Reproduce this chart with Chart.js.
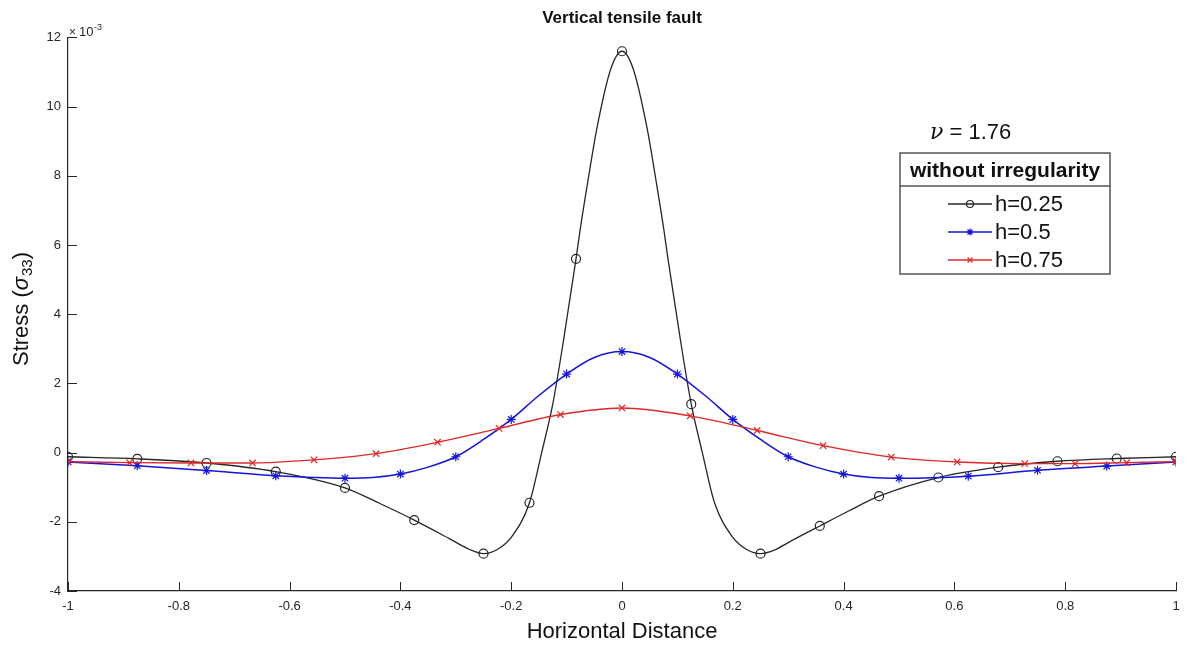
<!DOCTYPE html>
<html>
<head>
<meta charset="utf-8">
<script src="https://cdn.jsdelivr.net/npm/chart.js@4.4.1/dist/chart.umd.min.js"></script>
<style>
html,body{margin:0;padding:0;background:#fff;}
#wrap{width:1188px;height:646px;}
</style>
</head>
<body>
<div id="wrap"><canvas id="c" width="1188" height="646"></canvas></div>
<script>
// ---- data (stress values in units of 10^-3) ----
const xTickValues = [-1, -0.8, -0.6, -0.4, -0.2, 0, 0.2, 0.4, 0.6, 0.8, 1];
const yTickValues = [-4, -2, 0, 2, 4, 6, 8, 10, 12];

const seriesLabels = ["h=0.25", "h=0.5", "h=0.75"];

// h = 0.25 (black, circles)
const h025X = [-1, -0.875, -0.75, -0.625, -0.5, -0.44, -0.375, -0.31, -0.275, -0.25, -0.225, -0.2, -0.167, -0.145, -0.125, -0.105, -0.083, -0.075, -0.06, -0.045, -0.02, 0,
               0.02, 0.045, 0.06, 0.075, 0.083, 0.105, 0.125, 0.145, 0.167, 0.2, 0.225, 0.25, 0.275, 0.3, 0.357, 0.41, 0.464, 0.571, 0.679, 0.786, 0.893, 1];
const h025Y = [-0.12, -0.18, -0.3, -0.55, -1.02, -1.45, -1.95, -2.5, -2.8, -2.92, -2.8, -2.45, -1.45, 0, 1.4, 3.3, 5.6, 6.5, 8.0, 9.4, 11.1, 11.6,
               11.1, 9.4, 8.0, 6.5, 5.6, 3.3, 1.4, 0, -1.45, -2.45, -2.8, -2.92, -2.82, -2.6, -2.12, -1.68, -1.26, -0.72, -0.42, -0.25, -0.17, -0.12];
const h025Markers = [-1, -0.875, -0.75, -0.625, -0.5, -0.375, -0.25, -0.167, -0.083, 0, 0.125, 0.25, 0.357, 0.464, 0.571, 0.679, 0.786, 0.893, 1];

// h = 0.5 (blue, stars)
const h05X = [-1, -0.875, -0.75, -0.625, -0.5, -0.45, -0.4, -0.35, -0.3, -0.25, -0.2, -0.15, -0.1, -0.05, 0,
              0.05, 0.1, 0.15, 0.2, 0.25, 0.3, 0.35, 0.4, 0.45, 0.5, 0.625, 0.75, 0.875, 1];
const h05Y = [-0.27, -0.38, -0.52, -0.67, -0.74, -0.72, -0.62, -0.42, -0.12, 0.38, 0.96, 1.65, 2.27, 2.75, 2.92,
              2.75, 2.27, 1.65, 0.96, 0.38, -0.12, -0.42, -0.62, -0.72, -0.74, -0.68, -0.51, -0.39, -0.27];
const h05Markers = [-1, -0.875, -0.75, -0.625, -0.5, -0.4, -0.3, -0.2, -0.1, 0, 0.1, 0.2, 0.3, 0.4, 0.5, 0.625, 0.75, 0.875, 1];

// h = 0.75 (red, crosses)
const h075X = [-1, -0.889, -0.778, -0.667, -0.556, -0.444, -0.333, -0.222, -0.111, 0,
               0.123, 0.244, 0.363, 0.486, 0.605, 0.727, 0.818, 0.911, 1];
const h075Y = [-0.26, -0.29, -0.3, -0.3, -0.21, -0.03, 0.3, 0.7, 1.1, 1.29,
               1.06, 0.64, 0.2, -0.13, -0.27, -0.32, -0.32, -0.29, -0.26];
const h075Markers = [-1, -0.889, -0.778, -0.667, -0.556, -0.444, -0.333, -0.222, -0.111, 0,
                     0.123, 0.244, 0.363, 0.486, 0.605, 0.727, 0.818, 0.911, 1];

const nuText = "\u03BD";
const nuValue = " = 1.76";
const legendTitle = "without irregularity";
const yTitleParts = ["Stress (", "\u03C3", "33", ")"];

// ---- build datasets ----
function pts(xs, ys) { return xs.map((x, i) => ({x: x, y: ys[i]})); }
function markerPts(xs, ys, mk) { return mk.map(m => ({x: m, y: ys[xs.indexOf(m)]})); }

const styles = [
  {color: '#262626', pointStyle: 'circle', radius: 4.5, lw: 1.3},
  {color: '#1414dc', pointStyle: 'star', radius: 4.5, lw: 1.5},
  {color: '#e02828', pointStyle: 'crossRot', radius: 4.5, lw: 1.4}
];
const seriesData = [[h025X, h025Y, h025Markers], [h05X, h05Y, h05Markers], [h075X, h075Y, h075Markers]];

const datasets = [];
seriesData.forEach((s, i) => {
  const st = styles[i];
  datasets.push({
    label: seriesLabels[i],
    data: pts(s[0], s[1]),
    showLine: true,
    borderColor: st.color,
    borderWidth: st.lw,
    pointRadius: 0,
    cubicInterpolationMode: 'monotone',
    order: 3 - i
  });
  datasets.push({
    label: seriesLabels[i] + ' markers',
    data: markerPts(s[0], s[1], s[2]),
    showLine: false,
    pointStyle: st.pointStyle,
    pointRadius: st.radius,
    pointBorderColor: st.color,
    pointBackgroundColor: 'rgba(0,0,0,0)',
    pointBorderWidth: 1.2,
    order: 3 - i
  });
});

const axisColor = '#262626';
const FONT = '"Liberation Sans", Arial, sans-serif';

const decor = {
  id: 'decor',
  afterDraw(chart) {
    const ctx = chart.ctx;
    const xs = chart.scales.x, ys = chart.scales.y;
    const a = chart.chartArea;
    ctx.save();
    // inward tick marks
    ctx.strokeStyle = axisColor;
    ctx.lineWidth = 1;
    ctx.beginPath();
    xTickValues.forEach(v => {
      const px = Math.round(xs.getPixelForValue(v)) + 0.5;
      ctx.moveTo(px, a.bottom); ctx.lineTo(px, a.bottom - 9);
    });
    yTickValues.forEach(v => {
      const py = Math.round(ys.getPixelForValue(v)) + 0.5;
      ctx.moveTo(a.left, py); ctx.lineTo(a.left + 9, py);
    });
    ctx.stroke();

    // x10^-3 exponent label
    ctx.fillStyle = axisColor;
    ctx.textBaseline = 'alphabetic';
    ctx.textAlign = 'left';
    ctx.font = '12px ' + FONT;
    ctx.fillText('\u00D7', a.left + 1, a.top - 1);
    ctx.font = '13px ' + FONT;
    ctx.fillText('10', a.left + 11, a.top - 1);
    ctx.font = '9px ' + FONT;
    ctx.fillText('-3', a.left + 26, a.top - 7);

    // y-axis title with subscript
    ctx.save();
    ctx.translate(22, 309);
    ctx.rotate(-Math.PI / 2);
    ctx.fillStyle = '#111';
    ctx.textBaseline = 'middle';
    ctx.textAlign = 'left';
    const f1 = '22px ' + FONT, f2 = 'italic 22px ' + FONT, f3 = '15px ' + FONT;
    ctx.font = f1; const w1 = ctx.measureText(yTitleParts[0]).width;
    ctx.font = f2; const w2 = ctx.measureText(yTitleParts[1]).width;
    ctx.font = f3; const w3 = ctx.measureText(yTitleParts[2]).width;
    ctx.font = f1; const w4 = ctx.measureText(yTitleParts[3]).width;
    let cx = -(w1 + w2 + 1 + w3 + w4) / 2;
    ctx.font = f1; ctx.fillText(yTitleParts[0], cx, 0); cx += w1;
    ctx.font = f2; ctx.fillText(yTitleParts[1], cx, 0); cx += w2 + 1;
    ctx.font = f3; ctx.fillText(yTitleParts[2], cx, 6); cx += w3;
    ctx.font = f1; ctx.fillText(yTitleParts[3], cx, 0);
    ctx.restore();

    // nu label
    ctx.fillStyle = '#111';
    ctx.textAlign = 'left';
    ctx.textBaseline = 'alphabetic';
    ctx.font = 'italic 22px "DejaVu Serif", serif';
    ctx.fillText(nuText, 930, 139);
    const nw = ctx.measureText(nuText).width;
    ctx.font = '22px ' + FONT;
    ctx.fillText(nuValue, 930 + nw, 139);

    // legend box
    const L = 900, T = 153, R = 1110, B = 274, SEP = 186;
    ctx.fillStyle = '#fff';
    ctx.fillRect(L, T, R - L, B - T);
    ctx.strokeStyle = '#555';
    ctx.lineWidth = 1.5;
    ctx.strokeRect(L, T, R - L, B - T);
    ctx.beginPath();
    ctx.moveTo(L, SEP); ctx.lineTo(R, SEP);
    ctx.stroke();
    ctx.fillStyle = '#111';
    ctx.font = 'bold 21px ' + FONT;
    ctx.textAlign = 'center';
    ctx.textBaseline = 'middle';
    ctx.fillText(legendTitle, (L + R) / 2, 171);

    const rowsY = [204, 232, 260];
    seriesLabels.forEach((lab, i) => {
      const st = styles[i];
      const y = rowsY[i];
      ctx.strokeStyle = st.color;
      ctx.lineWidth = st.lw;
      ctx.beginPath();
      ctx.moveTo(948, y); ctx.lineTo(992, y);
      ctx.stroke();
      ctx.strokeStyle = st.color;
      ctx.fillStyle = 'rgba(0,0,0,0)';
      ctx.lineWidth = 1.2;
      Chart.helpers.drawPoint(ctx, {
        pointStyle: st.pointStyle, radius: st.radius - 1, rotation: 0, borderWidth: 1.2
      }, 970, y);
      ctx.fillStyle = '#111';
      ctx.font = '22px ' + FONT;
      ctx.textAlign = 'left';
      ctx.textBaseline = 'middle';
      ctx.fillText(lab, 995, y + 1);
    });
    ctx.restore();
  }
};

new Chart(document.getElementById('c'), {
  type: 'scatter',
  data: {datasets: datasets},
  options: {
    responsive: false,
    animation: false,
    devicePixelRatio: 1,
    layout: {padding: {left: 0, right: 12, top: 0, bottom: 0}},
    plugins: {
      legend: {display: false},
      tooltip: {enabled: false},
      title: {
        display: true,
        text: 'Vertical tensile fault',
        fullSize: false,
        color: '#111',
        font: {family: FONT, size: 17, weight: 'bold'},
        padding: {top: 8, bottom: 9}
      }
    },
    scales: {
      x: {
        type: 'linear',
        min: -1, max: 1,
        afterBuildTicks: s => { s.ticks = xTickValues.map(v => ({value: v})); },
        afterFit: s => { s.height = 55; },
        grid: {display: false, drawTicks: false},
        border: {display: true, color: axisColor, width: 1.2},
        ticks: {
          color: axisColor,
          font: {family: FONT, size: 13},
          padding: 8,
          maxRotation: 0,
          callback: v => String(v)
        },
        title: {
          display: true,
          text: 'Horizontal Distance',
          color: '#111',
          font: {family: FONT, size: 22},
          padding: {top: 0, bottom: 1}
        }
      },
      y: {
        type: 'linear',
        min: -4, max: 12,
        afterBuildTicks: s => { s.ticks = yTickValues.map(v => ({value: v})); },
        afterFit: s => { s.width = 68; },
        grid: {display: false, drawTicks: false},
        border: {display: true, color: axisColor, width: 1.2},
        ticks: {
          color: axisColor,
          font: {family: FONT, size: 13},
          padding: 7,
          callback: v => String(v)
        },
        title: {display: false}
      }
    }
  },
  plugins: [decor]
});
</script>
</body>
</html>
